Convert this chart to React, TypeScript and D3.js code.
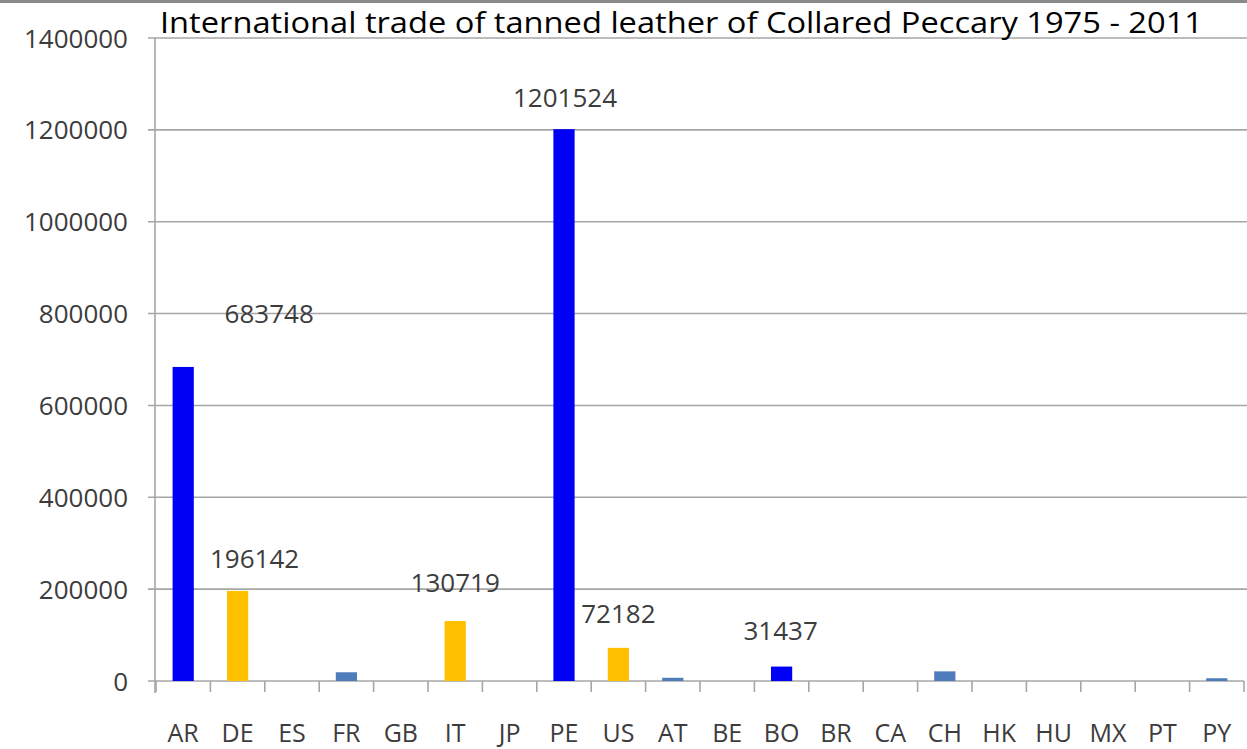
import React from "react";
import * as d3 from "d3";

const categories = ["AR","DE","ES","FR","GB","IT","JP","PE","US","AT","BE","BO","BR","CA","CH","HK","HU","MX","PT","PY"];
const values = [683748,196142,0,19000,0,130719,0,1201524,72182,7000,0,31437,0,0,21000,0,0,0,0,6000];
const groups = ["exp","imp","none","oth","none","imp","none","exp","imp","oth","none","exp","none","none","oth","none","none","none","none","oth"];
const labelled = ["AR","DE","IT","PE","US","BO"];
const yTicks = [0,200000,400000,600000,800000,1000000,1200000,1400000];
const title = "International trade of tanned leather of Collared Peccary 1975 - 2011";

const colors: Record<string,string> = { exp: "#0000F5", imp: "#FFC000", oth: "#4F7CBA", none: "#4F7CBA" };
// label placement (pixel offsets relative to bar center / top), layout only
const labelOffset: Record<string,[number,number]> = {
  AR: [86, -44], DE: [17, -23], IT: [0, -29], PE: [1, -22], US: [0, -25], BO: [-1, -27],
};

export default function App() {
  const W = 1247, H = 749;
  const left = 156, right = 1244, top = 38, bottom = 681;
  const x = d3.scaleBand<string>().domain(categories).range([left, right]).paddingInner(0.61).paddingOuter(0.305);
  const y = d3.scaleLinear().domain([0, 1400000]).range([bottom, top]);
  const step = x.step();
  const font = "'Open Sans', 'Liberation Sans', Arial, sans-serif";
  return (
    <svg width={W} height={H} style={{ position: "absolute", left: 0, top: 0, background: "#fff" }}>
      <rect x={0} y={0} width={W} height={H} fill="#fff" />
      <rect x={0} y={0} width={W} height={3} fill="#8a8a8a" />
      {yTicks.map((t) => (
        <g key={t}>
          <line x1={left - 8} x2={t === 0 ? right : W} y1={y(t)} y2={y(t)} stroke="#a6a6a6" strokeWidth={1.6} />
          <text x={128} y={y(t) + 9.5} textAnchor="end" fontFamily={font} fontSize={26} fill="#3c3c3c">{t}</text>
        </g>
      ))}
      <line x1={left - 1} x2={left - 1} y1={top} y2={bottom + 12} stroke="#a6a6a6" strokeWidth={1.6} />
      {d3.range(categories.length + 1).map((i) => (
        <line key={i} x1={left + i * step} x2={left + i * step} y1={bottom} y2={bottom + 11} stroke="#a6a6a6" strokeWidth={1.6} />
      ))}
      {categories.map((c, i) => (
        values[i] > 0 ? (
          <rect key={c} x={x(c)!} y={y(values[i])} width={x.bandwidth()} height={bottom - y(values[i])} fill={colors[groups[i]]} />
        ) : null
      ))}
      {categories.map((c, i) => (
        <text key={c} x={x(c)! + x.bandwidth() / 2} y={742} textAnchor="middle" fontFamily={font} fontSize={25} fill="#3c3c3c">{c}</text>
      ))}
      {labelled.map((c) => {
        const i = categories.indexOf(c);
        const [dx, dy] = labelOffset[c];
        return (
          <text key={c} x={x(c)! + x.bandwidth() / 2 + dx} y={y(values[i]) + dy} textAnchor="middle" fontFamily={font} fontSize={26} fill="#3c3c3c">{values[i]}</text>
        );
      })}
      <text x={160} y={33} fontFamily={font} fontSize={29} fill="#000" textLength={1043} lengthAdjust="spacingAndGlyphs">{title}</text>
    </svg>
  );
}
